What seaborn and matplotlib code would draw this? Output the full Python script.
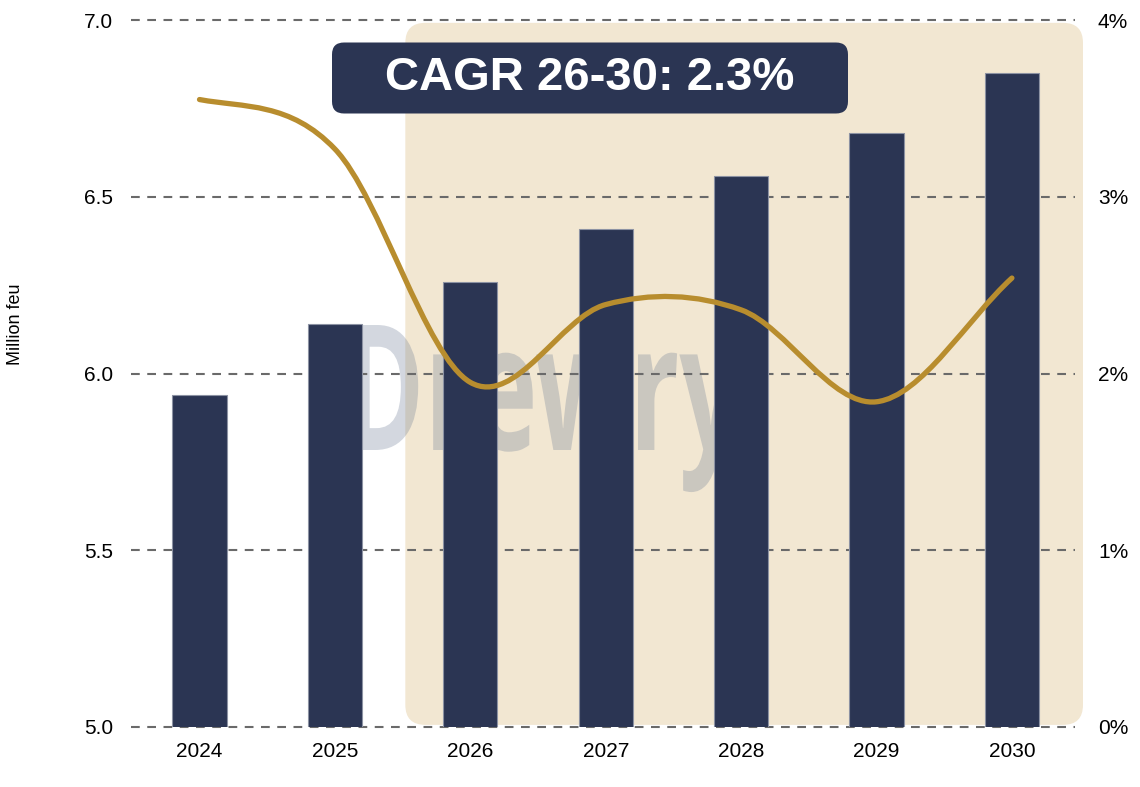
import numpy as np
import pandas as pd
import matplotlib
matplotlib.use("Agg")
import matplotlib.pyplot as plt
import seaborn as sns
from matplotlib.patches import FancyBboxPatch, PathPatch
from matplotlib.path import Path
from matplotlib.textpath import TextPath
from matplotlib.font_manager import FontProperties
from matplotlib.transforms import IdentityTransform, Affine2D
from matplotlib.ticker import FuncFormatter

# ---------------- data ----------------
years = ["2024", "2025", "2026", "2027", "2028", "2029", "2030"]
volume = [5.94, 6.14, 6.26, 6.41, 6.56, 6.68, 6.85]      # Million feu (left axis)
growth = [3.55, 3.27, 1.95, 2.39, 2.36, 1.84, 2.54]      # % growth (right axis)
left_ticks = [5.0, 5.5, 6.0, 6.5, 7.0]
right_ticks = [0, 1, 2, 3, 4]
cagr_label = "CAGR 26-30: 2.3%"
y_label = "Million feu"
watermark = "Drewry"
forecast_start = "2026"

NAVY = "#2B3553"
GOLD = "#B88D2E"
BEIGE = "#F2E7D2"
GRID = "#6A6A6A"

sns.set_theme(style="white")
plt.rcParams["font.family"] = ["Liberation Sans", "DejaVu Sans"]

W, H = 1140, 787
fig = plt.figure(figsize=(W / 100, H / 100), dpi=100)
ax_l, ax_b, ax_w, ax_h = 131, 60, 944, 707
ax = fig.add_axes([ax_l / W, ax_b / H, ax_w / W, ax_h / H])

df = pd.DataFrame({"year": years, "volume": volume})
sns.barplot(data=df, x="year", y="volume", color=NAVY, width=0.4, ax=ax,
            saturation=1, edgecolor="#8C92A3", linewidth=0.8, zorder=2)

ax.set_xlim(-0.506, 6.466)
ax.set_ylim(left_ticks[0], left_ticks[-1])
ax.set_yticks(left_ticks)
ax.set_yticklabels([f"{v:.1f}" for v in left_ticks])
ax.set_xlabel("")
ax.set_ylabel(y_label, fontsize=13, color="black")
ax.yaxis.set_label_coords(-0.113, 0.569)
ax.tick_params(axis="y", length=0, pad=13, labelsize=15, labelcolor="black")
ax.tick_params(axis="x", length=0, pad=11, labelsize=15, labelcolor="black")
for s in ax.spines.values():
    s.set_visible(False)
ax.set_axisbelow(True)
ax.yaxis.grid(True, color=GRID, linestyle=(0, (4.2, 3.6)), linewidth=1.5)
ax.xaxis.grid(False)
for gl in ax.get_ygridlines():
    gl.set_clip_on(False)
    gl.set_zorder(0.5)

# forecast shaded region (rounded rectangle), in display pixels
i0 = years.index(forecast_start)
x0 = ax.transData.transform((i0 - 0.48, 0))[0]
x1 = ax.transData.transform((len(years) - 1 + 0.525, 0))[0]
y0 = ax.transAxes.transform((0, 0.003))[1]
y1 = ax.transAxes.transform((0, 0.996))[1]
r = 20
shade = FancyBboxPatch((x0 + r, y0 + r), (x1 - x0) - 2 * r, (y1 - y0) - 2 * r,
                       boxstyle=f"round,pad={r},rounding_size={r}",
                       fc=BEIGE, ec="none", transform=IdentityTransform(),
                       zorder=0.1, clip_on=False)
ax.add_artist(shade)

# watermark text
tp = TextPath((0, 0), watermark, size=1,
              prop=FontProperties(family="Open Sans", weight="bold"))
bb = tp.get_extents()
wx0, wx1 = 353, 742
wbase = 450
cap = 125
sx = (wx1 - wx0) / bb.width
sy = cap / 0.714
tr = Affine2D().translate(-bb.x0, 0).scale(sx, sy).translate(wx0, H - wbase)
wm = PathPatch(tr.transform_path(tp), fc="#6E7D96", ec="none", alpha=0.3,
               transform=IdentityTransform(), zorder=0.3)
ax.add_artist(wm)

# right axis: growth line
ax2 = ax.twinx()
ax2.set_ylim(right_ticks[0], right_ticks[-1])
ax2.set_yticks(right_ticks)
ax2.yaxis.set_major_formatter(FuncFormatter(lambda v, p: f"{v:.0f}%"))
ax2.tick_params(axis="y", length=0, pad=16.5, labelsize=15, labelcolor="black")
ax2.grid(False)
for s in ax2.spines.values():
    s.set_visible(False)

g = np.array(growth, dtype=float)
n = len(g)
m = np.zeros(n)
m[1:-1] = (g[2:] - g[:-2]) / 2
m[0] = 0.5 * (g[1] - g[0])
m[-1] = (g[-1] - g[-2])
verts = [(0, g[0])]
codes = [Path.MOVETO]
for i in range(n - 1):
    verts += [(i + 1 / 3, g[i] + m[i] / 3), (i + 2 / 3, g[i + 1] - m[i + 1] / 3), (i + 1, g[i + 1])]
    codes += [Path.CURVE4] * 3
line = PathPatch(Path(verts, codes), fill=False, ec=GOLD, lw=3.8,
                 capstyle="round", joinstyle="round", zorder=3)
ax2.add_patch(line)

# CAGR label box
bx_c, by_c = 590, 78
bw, bh, br = 516, 71, 12
box = FancyBboxPatch((bx_c - bw / 2 + br, H - by_c - bh / 2 + br), bw - 2 * br, bh - 2 * br,
                     boxstyle=f"round,pad={br},rounding_size={br}", fc=NAVY, ec="none",
                     transform=IdentityTransform(), zorder=5, clip_on=False)
ax2.add_artist(box)
fig.text(bx_c / W, 1 - by_c / H, cagr_label, ha="center", va="center",
         fontsize=34, fontweight="bold", color="white", zorder=6)

fig.savefig("out.png", dpi=100)
